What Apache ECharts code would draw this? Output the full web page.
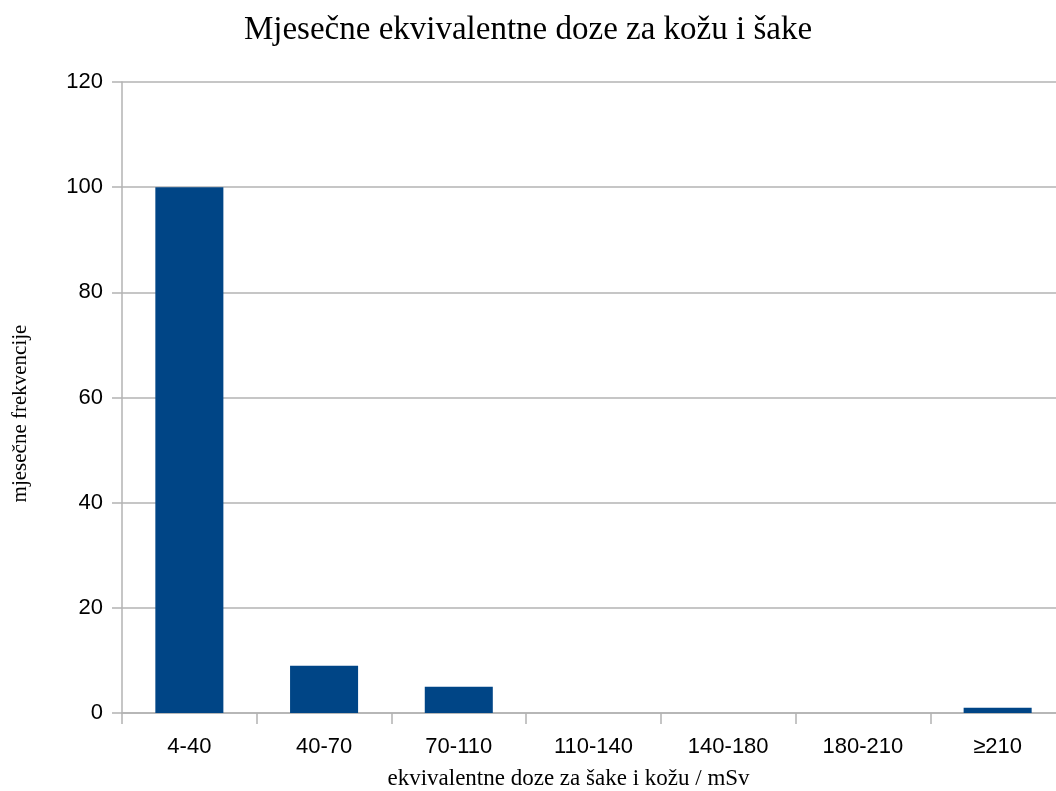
<!DOCTYPE html>
<html><head><meta charset="utf-8">
<script src="https://cdn.jsdelivr.net/npm/echarts@6/dist/echarts.min.js"></script>
<style>html,body{margin:0;padding:0;background:#fff}#c{width:1056px;height:791px}</style>
</head><body><div id="c"></div>
<script>
const categories = ['4-40','40-70','70-110','110-140','140-180','180-210','≥210'];
const frequencies = [100, 9, 5, 0, 0, 0, 1];
const yTicks = {min: 0, max: 120, interval: 20};
const chart = echarts.init(document.getElementById('c'));
chart.setOption({
  animation: false,
  backgroundColor: '#fff',
  title: {
    text: 'Mjesečne ekvivalentne doze za kožu i šake',
    left: 'center', top: 9,
    textStyle: {fontFamily: 'Liberation Serif', fontSize: 33, fontWeight: 'normal', color: '#000'}
  },
  grid: {left: 122, top: 82, width: 943, height: 631, containLabel: false, outerBoundsMode: 'none'},
  xAxis: {
    type: 'category', data: categories,
    name: 'ekvivalentne doze za šake i kožu / mSv',
    nameLocation: 'middle', nameGap: 54,
    nameTextStyle: {fontFamily: 'Liberation Serif', fontSize: 23, color: '#000', padding: [0, 50, 0, 0]},
    axisLine: {lineStyle: {color: '#b3b3b3', width: 1.5}},
    axisTick: {show: true, length: 11, lineStyle: {color: '#b3b3b3', width: 1.5}},
    axisLabel: {fontFamily: 'Liberation Sans', fontSize: 22, color: '#000', margin: 23},
    splitLine: {show: false}
  },
  yAxis: {
    type: 'value', min: yTicks.min, max: yTicks.max, interval: yTicks.interval,
    name: 'mjesečne frekvencije', nameLocation: 'middle', nameGap: 91, nameRotate: 90,
    nameTextStyle: {fontFamily: 'Liberation Serif', fontSize: 21, color: '#000', padding: [0, 32, 0, 0]},
    axisLine: {show: true, lineStyle: {color: '#b3b3b3', width: 1.5}},
    axisTick: {show: true, length: 10, lineStyle: {color: '#b3b3b3', width: 1.5}},
    axisLabel: {fontFamily: 'Liberation Sans', fontSize: 22, color: '#000', margin: 19},
    splitLine: {lineStyle: {color: '#b3b3b3', width: 1.5}}
  },
  series: [{
    type: 'bar', data: frequencies, barWidth: '50.5%',
    itemStyle: {color: '#004586'}
  }]
});
</script></body></html>
